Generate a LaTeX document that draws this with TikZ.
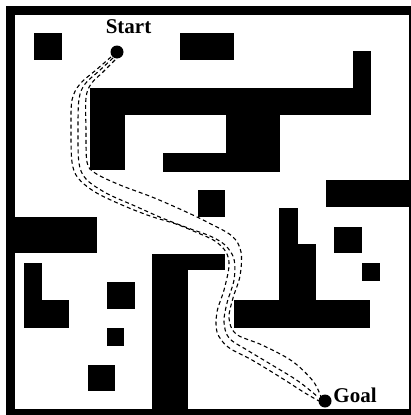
\documentclass[tikz,border=0pt]{standalone}
\usepackage{fontspec}
\setmainfont{Liberation Serif}
\begin{document}
\begin{tikzpicture}[x=1pt,y=-1pt,
  obst/.style={fill=black},
  pathline/.style={draw=black,line width=1.1pt,dash pattern=on 4pt off 3pt},
  label/.style={font=\fontsize{21}{23}\selectfont\bfseries,anchor=base,inner sep=0pt},
  dot/.style={circle,fill=black,inner sep=0pt}]
\useasboundingbox (0,0) rectangle (411,415);
% frame
\fill[black] (6,6) rectangle (411,415);
\fill[white] (15,15) rectangle (409,409);
% obstacles
\fill[obst] (34,33) rectangle (62,60);
\fill[obst] (180,33) rectangle (234,60);
\fill[obst] (90,88) rectangle (371,115);
\fill[obst] (90,88) rectangle (125,170);
\fill[obst] (353,51) rectangle (371,115);
\fill[obst] (226,113) rectangle (280,172);
\fill[obst] (163,153) rectangle (280,172);
\fill[obst] (198,190) rectangle (225,217);
\fill[obst] (326,180) rectangle (410,207);
\fill[obst] (14,217) rectangle (97,253);
\fill[obst] (24,263) rectangle (42,328);
\fill[obst] (24,300) rectangle (69,328);
\fill[obst] (107,282) rectangle (135,309);
\fill[obst] (107,328) rectangle (124,346);
\fill[obst] (88,365) rectangle (115,391);
\fill[obst] (152,254) rectangle (225,270);
\fill[obst] (152,254) rectangle (188,410);
\fill[obst] (279,208) rectangle (298,328);
\fill[obst] (297,244) rectangle (316,328);
\fill[obst] (234,300) rectangle (370,328);
\fill[obst] (334,227) rectangle (362,253);
\fill[obst] (362,263) rectangle (380,281);
% start / goal
\node[dot,minimum size=13pt] (start) at (117,52) {};
\node[dot,minimum size=13pt] (goal) at (325,401) {};
\node[label] (startlbl) at (128.5,33) {Start};
\node[label] (goallbl) at (355,402) {Goal};
% trajectories
\draw[pathline] plot[smooth,tension=0.55] coordinates {(111,57) (96,70) (80,84) (72,100) (71,130) (72,162) (78,178) (95,192) (122,205) (150,216) (176,224) (198,233) (215,241) (226,252) (229,266) (224,290) (217,312) (217,332) (228,347) (252,360) (280,377) (305,393) (319,401)};
\draw[pathline] plot[smooth,tension=0.55] coordinates {(113,58) (99,71) (85,84) (79,99) (78,130) (79,163) (86,179) (106,193) (135,206) (162,218) (188,228) (210,236) (225,245) (234,259) (234,280) (227,303) (224,322) (229,338) (247,350) (272,365) (298,381) (318,397)};
\draw[pathline] plot[smooth,tension=0.55] coordinates {(115,60) (103,72) (91,84) (86,98) (86,130) (87,162) (95,173) (120,185) (152,197) (182,210) (207,222) (232,236) (241,252) (240,276) (233,298) (229,318) (236,334) (262,345) (292,361) (313,381) (321,397)};
\end{tikzpicture}
\end{document}
